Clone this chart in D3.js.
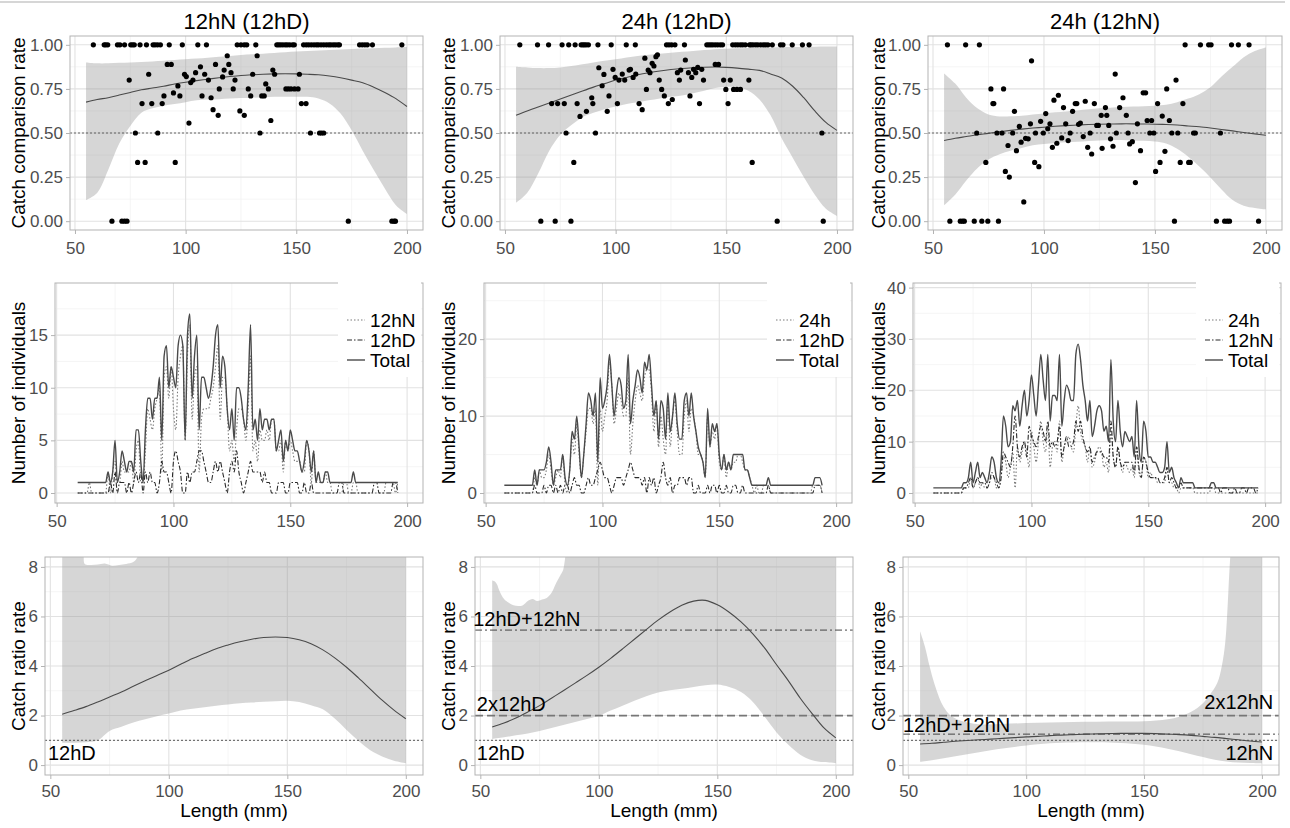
<!DOCTYPE html>
<meta charset="utf-8">
<style>
body { margin: 0; background: #fff; }
svg text { font-family: "Liberation Sans", Arial, sans-serif; }
.ptitle { font-size: 22px; fill: #000; }
.atitle { font-size: 19px; fill: #000; }
.note { font-size: 20px; fill: #000; }
.leg { font-size: 19px; fill: #000; }
</style>
<body>
<script src="https://cdn.jsdelivr.net/npm/d3@7"></script>
<script>
// ---- data ----
var fitLen = [55,60,65,70,75,80,85,90,95,100,105,110,115,120,125,130,135,140,145,150,155,160,165,170,175,180,185,190,195,200];

// top row: catch comparison rate
var ccFitA = [.675,.69,.70,.715,.73,.745,.755,.765,.778,.788,.797,.805,.813,.82,.826,.83,.833,.835,.836,.835,.833,.83,.823,.813,.80,.785,.76,.73,.695,.65];
var ccLoA = [.12,.16,.29,.44,.54,.615,.64,.655,.665,.675,.685,.69,.692,.695,.698,.70,.703,.705,.706,.706,.705,.695,.667,.61,.515,.40,.29,.185,.09,.04];
var ccHiA = [.90,.895,.895,.898,.90,.903,.906,.91,.914,.918,.922,.927,.932,.937,.942,.946,.95,.954,.958,.962,.965,.968,.971,.974,.977,.979,.981,.983,.985,.987];
var ccOnesA = [58.3,63.2,63.9,64.8,69.2,70.3,72.4,75.2,76,76.8,79.4,82.3,85.3,86.2,87.3,88.6,92.6,98.5,105.5,109.4,123.3,125,126.5,127.6,131.7,141.2,142,142.9,143.9,145,145.9,147,148.3,149.1,153.3,154.5,155.6,156.8,158,159.1,160,161.2,162.4,163.6,164.7,165.6,166.7,167.7,168.8,169.5,178.6,179.8,181,182.1,184.4,197.7];
var ccZerosA = [66.7,71.2,72.4,73.5,173.5,193.2,194.2,194.8];
var ccMidA = [[74.5,.80],[77.3,.50],[78.3,.333],[81.7,.333],[80.3,.667],[83.3,.833],[84.7,.667],[87.4,.50],[89.4,.667],[90.2,.71],[91.7,.889],[93.5,.889],[94.5,.727],[95.3,.333],[96.5,.767],[97.4,.71],[99.5,.833],[100.3,.82],[101.5,.556],[102.3,.786],[103.3,.80],[104.5,.842],[106.7,.875],[107.4,.71],[108.6,.833],[110.3,.80],[111.5,.70],[112.4,.632],[113.5,.889],[114.7,.60],[115.2,.75],[116.7,.818],[117.4,.857],[118.8,.938],[119.5,.889],[120.5,.842],[121.5,.75],[122.3,.80],[124.5,.625],[126.5,.60],[128.3,.75],[129.4,.71],[130.3,.833],[132.3,.938],[133.6,.50],[134.4,.71],[135.5,.71],[136.2,.778],[137.4,.75],[138.5,.571],[139.4,.857],[140.2,.833],[145.3,.75],[146.4,.75],[147.6,.75],[149.2,.75],[150.8,.75],[151.4,.833],[152.3,.667],[154.4,.667],[156.4,.50],[160.5,.50],[161.4,.50],[162.4,.50]];

var ccFitB = [.60,.625,.648,.67,.693,.715,.738,.76,.78,.80,.815,.83,.842,.852,.86,.866,.87,.873,.874,.872,.868,.862,.855,.835,.812,.765,.70,.625,.56,.515];
var ccLoB = [.105,.16,.27,.40,.49,.545,.59,.615,.635,.65,.665,.675,.685,.695,.705,.712,.725,.74,.755,.762,.76,.74,.69,.60,.47,.36,.25,.15,.07,.03];
var ccHiB = [.876,.872,.868,.868,.872,.88,.89,.90,.91,.918,.928,.936,.943,.95,.955,.96,.965,.97,.975,.978,.98,.982,.984,.985,.986,.987,.988,.989,.99,.99];
var ccOnesB = [56.7,64.7,69.7,75.8,78.8,81.7,84.4,85.2,85.9,86.7,87.7,92,98,104.8,108.9,123,124.1,125.3,126.8,131.1,141.2,142.1,143,143.9,145,146.1,147.3,148.3,152.9,154.1,155.2,156.4,157.4,158.6,160.5,161.2,162.1,163.2,164.2,165.5,166.7,167.7,168.8,170.8,174.5,175.6,179.8,184.4,187.4];
var ccZerosB = [66.2,72.7,79.8,173,193.8];
var ccMidB = [[71.1,.667],[73.8,.667],[76.8,.667],[77.6,.50],[81.1,.333],[82.6,.667],[83.9,.594],[86.8,.623],[89.2,.70],[89.7,.667],[90.9,.50],[92.4,.87],[93.9,.768],[94.7,.832],[96.2,.623],[97,.71],[98.8,.861],[99.8,.815],[100.8,.667],[101.5,.80],[103,.834],[104.1,.80],[106.1,.857],[106.7,.861],[107.9,.815],[109.1,.834],[110.6,.667],[112,.632],[113.2,.924],[113.9,.747],[114.7,.857],[115.5,.842],[116.5,.895],[117.3,.88],[118.2,.933],[118.9,.943],[119.7,.80],[120.8,.747],[122,.71],[123.8,.667],[125.6,.69],[127.9,.842],[128.8,.80],[129.4,.857],[131.5,.914],[132.9,.842],[133.6,.71],[134.4,.815],[135.2,.861],[136.2,.842],[137.1,.872],[137.9,.667],[138.9,.861],[139.7,.80],[145,.889],[146.5,.889],[148.8,.80],[149.8,.747],[150.8,.667],[151.8,.80],[153.3,.747],[154.8,.747],[156.4,.747],[160.2,.80],[161.7,.333],[193.2,.50]];

var ccFitC = [.457,.47,.48,.49,.498,.507,.515,.522,.528,.533,.538,.542,.545,.548,.55,.551,.552,.552,.551,.55,.548,.545,.54,.535,.528,.52,.512,.503,.495,.487];
var ccLoC = [.09,.15,.23,.30,.35,.38,.40,.415,.43,.438,.443,.447,.45,.455,.458,.46,.46,.458,.456,.452,.44,.41,.365,.31,.248,.18,.12,.088,.075,.067];
var ccHiC = [.838,.78,.70,.64,.605,.594,.595,.598,.605,.61,.617,.622,.628,.634,.64,.643,.647,.65,.652,.655,.66,.675,.695,.72,.76,.82,.875,.93,.965,.985];
var ccOnesC = [56.5,64.7,70.9,163.6,170.5,174.2,175.3,184.5,187.6,192.4];
var ccZerosC = [57.6,62.3,63.3,64.1,68.6,72,74.7,79.5,158.8,177.7,181.4,182.6,183.6,196.7];
var ccMidC = [[94.4,.909],[69.7,.50],[73.8,.333],[76.1,.75],[77,.667],[77.4,.667],[78.8,.50],[81.1,.50],[81.8,.75],[82.6,.282],[83.8,.429],[84.4,.25],[85.9,.50],[86.7,.623],[87.6,.40],[88.9,.537],[89.7,.448],[90.9,.109],[91.7,.47],[92.9,.467],[93.9,.552],[95.8,.333],[96.2,.50],[97.7,.309],[98.5,.566],[99.7,.50],[100.8,.61],[101.7,.524],[102.7,.552],[103.8,.419],[104.5,.686],[105.8,.442],[106.5,.714],[108,.472],[108.8,.644],[109.8,.552],[110.9,.457],[111.8,.50],[112.9,.623],[114.1,.667],[114.8,.667],[115.6,.549],[116.4,.556],[117.7,.48],[118.6,.68],[119.7,.419],[120.8,.50],[121.5,.381],[122.7,.667],[123.8,.543],[124.5,.543],[125.8,.60],[126.2,.413],[127.7,.644],[128.3,.60],[129.2,.543],[130,.467],[131.1,.425],[132.1,.834],[132.6,.50],[134.1,.644],[135.6,.70],[137.1,.60],[137.9,.50],[138.6,.438],[139.8,.451],[141.2,.219],[142.1,.552],[143.5,.40],[144.7,.728],[145.8,.728],[146.5,.571],[147.7,.50],[148.5,.571],[149.5,.50],[150.3,.282],[151.2,.667],[152.3,.333],[153.3,.596],[154.5,.396],[155.3,.75],[156.5,.571],[157.6,.50],[159.5,.80],[160.3,.50],[161.4,.333],[162.6,.667],[165.2,.333],[165.9,.333],[167.4,.50],[168.2,.50],[179.5,.50]];

// middle row: number of individuals per mm
var countStart1 = 59;
var total1 = [1,1,1,1,1,1,1,1,1,1, 1,1,1,2,1,2,5,1,2,4, 3,2,3,3,2,6,6,3,1,6, 9,9,7,9,9,11,5,13,14,10, 12,11,10,14,15,14,5,15,17,9, 13,15,6,11,11,10,9,10,12,15, 16,10,13,12,8,6,8,5,10,10, 9,7,6,10,16,6,7,5,8,6, 7,7,6,7,7,4,5,6,3,5, 4,6,5,4,4,3,2,3,5,4, 2,4,1,2,1,1,2,2,1,1, 1,1,1,1,1,1,1,1,2,1, 1,1,1,1,1,1,1,1,1,1, 1,1,1,1,1,1,1,1];
var n12hN1 = [0,0,0,0,0,1,0,0,0,0, 0,0,0,2,0,2,3,1,1,3, 2,2,2,3,1,4,5,1,1,4, 8,7,6,8,9,10,2,11,12,9, 12,8,6,11,13,14,5,13,16,7, 11,12,2,7,8,8,8,9,10,12, 14,7,11,11,8,4,5,3,6,8, 8,7,5,8,13,4,5,3,6,5, 5,6,5,7,7,4,4,5,2,5, 4,5,4,3,3,3,2,2,5,4, 1,4,1,1,1,1,2,1,1,0, 0,0,0,0,1,1,0,0,1,1, 0,0,0,0,0,0,0,0,0,0, 0,0,1,1,1,1,0,1];
var n12hD1 = [0,0,0,0,0,0,0,0,0,0, 0,0,0,0,1,0,2,0,1,1, 1,0,1,0,1,2,1,2,0,2, 1,2,1,1,0,1,3,2,2,1, 0,3,4,3,2,0,0,2,1,2, 2,3,4,4,3,2,1,1,2,3, 2,3,2,1,0,2,3,2,4,2, 1,0,1,2,3,2,2,2,2,1, 2,1,1,0,0,0,1,1,1,0, 0,1,1,1,1,0,0,1,0,0, 1,0,0,0,0,0,0,0,0,0, 0,0,1,1,0,0,0,0,0,0, 0,0,0,0,0,0,0,1,1,0, 0,0,0,0,0,1,1,0];

var countStart2 = 58;
var total2 = [1,1,1,1,1,1,1,1,1,1, 1,1,1,3,1,3,3,3,4,6, 4,1,3,3,3,5,2,1,3,8, 7,10,6,2,5,9,13,12,10,13, 4,15,11,12,14,18,14,10,13,15, 14,11,12,18,9,12,14,16,15,13, 17,16,18,14,10,12,7,12,11,7, 13,8,10,13,9,7,7,12,13,10, 13,10,8,6,5,4,2,11,6,9, 8,9,5,3,5,3,4,3,5,5, 5,5,5,3,3,2,1,1,1,1, 1,1,1,2,1,1,1,1,1,1, 1,1,1,1,1,1,1,1,1,1, 1,1,1,2,2,2,1];
var n24h2 = [0,0,0,0,0,0,0,0,0,0, 0,0,0,2,1,3,2,2,3,5, 3,1,2,3,2,5,1,0,3,7, 5,9,5,2,5,8,11,11,9,11, 1,11,8,10,12,17,14,9,11,13, 12,10,10,15,5,9,12,14,13,12, 15,16,16,13,8,12,6,10,7,5, 12,6,10,12,8,5,5,10,12,8, 11,10,8,5,5,4,2,10,6,8, 7,9,4,3,5,2,4,3,4,4, 5,5,4,3,3,2,1,0,1,0, 0,1,1,1,0,0,0,0,0,0, 0,0,0,0,0,0,0,0,0,0, 0,0,1,1,1,1,0];
var n12hD2 = [0,0,0,0,0,0,0,0,0,0, 0,0,0,1,0,0,0,1,0,1, 1,0,1,0,1,0,1,1,0,1, 2,1,1,0,0,1,2,1,1,2, 3,4,3,2,2,1,0,1,2,2, 2,1,2,3,4,3,2,2,2,1, 2,0,2,1,2,0,1,2,4,2, 1,2,0,1,1,2,2,2,1,2, 2,0,0,1,0,0,0,1,0,1, 1,0,1,0,0,1,0,0,1,1, 0,0,1,0,0,0,0,0,0,0, 0,0,0,1,0,0,0,0,0,0, 0,0,0,0,0,0,0,0,0,0, 0,0,0,1,1,1,0];

var countStart3 = 58;
var total3 = [1,1,1,1,1,1,1,1,1,1, 1,1,1,2,2,3,6,2,4,6, 3,4,3,2,4,7,6,3,2,6, 15,13,9,10,17,16,18,13,17,20, 15,18,23,19,15,21,27,22,18,27, 14,19,19,18,27,13,18,21,20,18, 18,27,29,26,21,18,14,18,11,13, 16,17,16,12,13,10,26,14,10,18, 12,9,12,11,10,11,7,18,9,6, 14,12,7,7,6,6,5,4,4,5, 10,4,5,3,2,1,3,2,2,2, 2,2,1,1,1,1,1,1,1,2, 2,1,1,1,1,1,1,1,1,1, 1,1,1,1,1,1,1,1,1,1];
var n24h3 = [0,0,0,0,0,0,0,0,0,0, 0,0,0,1,1,1,3,1,2,3, 1,2,1,1,2,3,3,1,1,3, 7,6,3,5,8,1,9,6,8,10, 8,5,12,9,6,10,14,10,8,13, 5,9,10,8,14,6,9,10,11,9, 8,13,17,12,10,9,6,9,5,6, 8,9,8,5,6,4,12,7,5,9, 6,4,6,5,4,5,3,9,4,3, 7,6,3,4,3,3,2,2,2,2, 5,2,2,1,1,0,1,1,1,1, 1,1,0,0,0,0,0,0,0,1, 1,0,0,0,0,0,0,0,0,0, 0,0,0,0,0,0,0,0,0,0];
var n12hN3 = [0,0,0,0,0,0,0,0,0,0, 0,0,0,1,1,2,3,1,2,3, 2,2,2,1,2,4,3,2,1,3, 8,7,6,5,9,15,9,7,9,10, 7,13,11,10,9,11,13,12,10,14, 9,10,9,10,13,7,9,11,9,9, 10,14,12,14,11,9,8,9,6,7, 8,8,8,7,7,6,14,7,5,9, 6,5,6,6,6,6,4,9,5,3, 7,6,4,3,3,3,3,2,2,3, 5,2,3,2,1,1,2,1,1,1, 1,1,1,1,1,1,1,1,1,1, 1,1,1,0,1,1,1,0,0,1, 0,0,1,1,0,1,1,1,0,1];

// bottom row: catch ratio rate
var crFitD = [2.05,2.2,2.36,2.55,2.75,2.95,3.18,3.4,3.62,3.83,4.07,4.3,4.5,4.7,4.85,4.98,5.08,5.15,5.17,5.15,5.06,4.9,4.65,4.33,3.95,3.52,3.07,2.62,2.22,1.87];
var crLoD = [0.9,0.9,0.92,1.0,1.38,1.55,1.72,1.85,1.97,2.08,2.2,2.27,2.33,2.4,2.45,2.5,2.53,2.56,2.58,2.6,2.55,2.42,2.25,1.88,1.42,0.98,0.6,0.35,0.18,0.08];
var crHiD = [[55,10.5],[60,9.6],[63,8.9],[64,8.5],[64.5,8.12],[67,8.08],[70,8.1],[73,8.14],[76,8.05],[79,8.08],[82,8.12],[85,8.2],[86.5,8.35],[88,8.8],[92,9.6],[100,10.5],[150,11.5],[200,12]];
var refD = [1];

var crFitE = [1.54,1.7,1.9,2.14,2.4,2.7,3.0,3.31,3.62,3.95,4.31,4.69,5.08,5.47,5.85,6.18,6.45,6.62,6.65,6.47,6.17,5.78,5.3,4.72,4.05,3.4,2.7,2.08,1.5,1.1];
var crLoE = [1.05,1.12,1.2,1.28,1.38,1.5,1.62,1.74,1.86,1.99,2.2,2.4,2.6,2.78,2.93,3.02,3.08,3.15,3.22,3.25,3.15,2.95,2.55,1.95,1.32,0.82,0.42,0.2,0.12,0.08];
var crHiE = [[55,7.45],[56,7.42],[57,7.3],[58,7.05],[60,6.7],[62,6.55],[64,6.45],[66,6.42],[68,6.45],[70,6.62],[72,6.7],[74,6.62],[76,6.68],[78,6.75],[80,6.95],[82,7.35],[84,7.7],[85,7.9],[86,8.5],[88,9.5],[100,11],[200,12]];
var refE = [1, 2, 5.45];

var crFitF = [0.85,0.88,0.92,0.96,0.99,1.02,1.05,1.08,1.11,1.14,1.16,1.19,1.21,1.23,1.25,1.26,1.27,1.28,1.28,1.28,1.27,1.25,1.23,1.2,1.16,1.12,1.07,1.02,0.97,0.93];
var crLoF = [0.13,0.2,0.28,0.36,0.44,0.52,0.6,0.67,0.73,0.79,0.84,0.88,0.9,0.91,0.92,0.92,0.91,0.89,0.86,0.82,0.75,0.66,0.56,0.44,0.33,0.22,0.15,0.1,0.08,0.07];
var crHiF = [[55,5.4],[57,4.8],[59,4.0],[61,3.3],[63,2.75],[65,2.35],[68,2.0],[72,1.8],[80,1.65],[90,1.66],[100,1.7],[110,1.72],[120,1.74],[130,1.75],[140,1.76],[150,1.77],[160,1.85],[165,1.95],[170,2.15],[175,2.5],[178,2.85],[181,3.3],[183,4.0],[184.5,5.0],[185.5,6.5],[186.5,8.3],[188,10],[200,12]];
var refF = [1, 2, 1.25];

var xTicks = [50, 100, 150, 200], xMinor = [75, 125, 175];

// ---- drawing ----
var svg = d3.select("body").append("svg").attr("width", 1290).attr("height", 828);

svg.append("line").attr("x1", 0).attr("x2", 1285).attr("y1", 2).attr("y2", 2)
  .attr("stroke", "#c8c8c8").attr("stroke-width", 1.5);

function styleAxis(a) {
  a.select(".domain").remove();
  a.selectAll(".tick line").attr("stroke", "#b3b3b3");
  a.selectAll(".tick text").attr("fill", "#4d4d4d").style("font-size", "17px")
    .style("font-family", '"Liberation Sans", Arial, sans-serif');
}

// box = [left, right, top, bottom]
function panel(id, box, xDom, yDom, yTicks, yMinor, yFmt, xGap) {
  var x = d3.scaleLinear().domain(xDom).range([box[0], box[1]]);
  var y = d3.scaleLinear().domain(yDom).range([box[3], box[2]]);
  var g = svg.append("g");
  svg.append("clipPath").attr("id", "clip" + id).append("rect")
    .attr("x", box[0]).attr("y", box[2]).attr("width", box[1] - box[0]).attr("height", box[3] - box[2]);
  var grid = g.append("g");
  function vlines(vals, col, w) {
    grid.selectAll(null).data(vals).enter().append("line")
      .attr("x1", x).attr("x2", x).attr("y1", box[2]).attr("y2", box[3])
      .attr("stroke", col).attr("stroke-width", w);
  }
  function hlines(vals, col, w) {
    grid.selectAll(null).data(vals).enter().append("line")
      .attr("y1", y).attr("y2", y).attr("x1", box[0]).attr("x2", box[1])
      .attr("stroke", col).attr("stroke-width", w);
  }
  vlines(xMinor, "#f0f0f0", 0.7);
  hlines(yMinor, "#f0f0f0", 0.7);
  vlines(xTicks, "#e2e2e2", 1.1);
  hlines(yTicks, "#e2e2e2", 1.1);
  var body = g.append("g").attr("clip-path", "url(#clip" + id + ")");
  g.append("rect").attr("x", box[0]).attr("y", box[2])
    .attr("width", box[1] - box[0]).attr("height", box[3] - box[2])
    .attr("fill", "none").attr("stroke", "#b3b3b3").attr("stroke-width", 1);
  var ax = g.append("g").attr("transform", "translate(0," + box[3] + ")")
    .call(d3.axisBottom(x).tickValues(xTicks).tickSize(4).tickPadding(xGap));
  styleAxis(ax);
  var ay = g.append("g").attr("transform", "translate(" + box[0] + ",0)")
    .call(d3.axisLeft(y).tickValues(yTicks).tickFormat(yFmt).tickSize(4).tickPadding(3));
  styleAxis(ay);
  return { x: x, y: y, g: g, body: body, box: box };
}

function yTitle(p, cx, label) {
  var cy = (p.box[2] + p.box[3]) / 2;
  svg.append("text").attr("class", "atitle")
    .attr("transform", "translate(" + cx + "," + cy + ") rotate(-90)")
    .attr("text-anchor", "middle").attr("dominant-baseline", "central").text(label);
}

function band(p, upper, lower) {
  var ln = d3.line().x(function(d) { return p.x(d[0]); }).y(function(d) { return p.y(d[1]); })
    .curve(d3.curveCatmullRom);
  var path = ln(upper) + "L" + ln(lower.slice().reverse()).slice(1) + "Z";
  p.body.append("path").attr("d", path).attr("fill", "#999999").attr("fill-opacity", 0.4);
}

function curve(p, pts) {
  var ln = d3.line().x(function(d) { return p.x(d[0]); }).y(function(d) { return p.y(d[1]); })
    .curve(d3.curveCatmullRom);
  p.body.append("path").attr("d", ln(pts)).attr("fill", "none")
    .attr("stroke", "#4a4a4a").attr("stroke-width", 1.1);
}

function zip(xs, ys) { return xs.map(function(v, i) { return [v, ys[i]]; }); }

// top row
var topBoxes = [[70, 423, 36, 230], [500, 853, 36, 230], [928, 1282, 36, 230]];
var colTitleX = [18, 448, 878];
var topTitles = ["12hN (12hD)", "24h (12hD)", "24h (12hN)"];
var topSets = [
  [ccFitA, ccLoA, ccHiA, ccOnesA, ccZerosA, ccMidA],
  [ccFitB, ccLoB, ccHiB, ccOnesB, ccZerosB, ccMidB],
  [ccFitC, ccLoC, ccHiC, ccOnesC, ccZerosC, ccMidC]
];
topSets.forEach(function(s, i) {
  var p = panel("t" + i, topBoxes[i], [47.75, 207.25], [-0.05, 1.05],
    [0, 0.25, 0.5, 0.75, 1], [0.125, 0.375, 0.625, 0.875], d3.format(".2f"), 8);
  band(p, zip(fitLen, s[2]), zip(fitLen, s[1]));
  p.body.append("line").attr("x1", p.box[0]).attr("x2", p.box[1])
    .attr("y1", p.y(0.5)).attr("y2", p.y(0.5))
    .attr("stroke", "#555").attr("stroke-width", 0.9).attr("stroke-dasharray", "2,2");
  curve(p, zip(fitLen, s[0]));
  var pts = s[3].map(function(v) { return [v, 1]; })
    .concat(s[4].map(function(v) { return [v, 0]; }))
    .concat(s[5]);
  p.body.selectAll(null).data(pts).enter().append("circle")
    .attr("cx", function(d) { return p.x(d[0]); })
    .attr("cy", function(d) { return p.y(d[1]); })
    .attr("r", 2.6).attr("fill", "#000");
  svg.append("text").attr("class", "ptitle").attr("text-anchor", "middle")
    .attr("x", (p.box[0] + p.box[1]) / 2).attr("y", 29).text(topTitles[i]);
  yTitle(p, colTitleX[i], "Catch comparison rate");
});

// middle row
var midBoxes = [[55, 423, 283, 503], [484, 852, 283, 503], [913, 1281, 283, 503]];
var midSets = [
  { start: countStart1, total: total1, dot: n12hN1, dash: n12hD1, names: ["12hN", "12hD", "Total"],
    yDom: [-0.95, 19.95], ticks: [0, 5, 10, 15], minor: [2.5, 7.5, 12.5, 17.5] },
  { start: countStart2, total: total2, dot: n24h2, dash: n12hD2, names: ["24h", "12hD", "Total"],
    yDom: [-1.3, 27.3], ticks: [0, 10, 20], minor: [5, 15, 25] },
  { start: countStart3, total: total3, dot: n24h3, dash: n12hN3, names: ["24h", "12hN", "Total"],
    yDom: [-1.95, 40.9], ticks: [0, 10, 20, 30, 40], minor: [5, 15, 25, 35] }
];
var lineStyles = [
  { col: "#7a7a7a", w: 1.1, dash: "1.5,2" },
  { col: "#2a2a2a", w: 1.1, dash: "5,2,1.5,2" },
  { col: "#4a4a4a", w: 1.4, dash: null }
];
midSets.forEach(function(s, i) {
  var p = panel("m" + i, midBoxes[i], [49.3, 206.8], s.yDom, s.ticks, s.minor, d3.format("d"), 8);
  var ln = d3.line().x(function(d) { return p.x(d[0]); }).y(function(d) { return p.y(d[1]); })
    .curve(d3.curveMonotoneX);
  var series = [s.dot, s.dash, s.total];
  series.forEach(function(arr, k) {
    var pts = arr.map(function(v, j) { return [s.start + j, v]; });
    var path = p.body.append("path").attr("d", ln(pts)).attr("fill", "none")
      .attr("stroke", lineStyles[k].col).attr("stroke-width", lineStyles[k].w)
      .attr("stroke-linejoin", "round");
    if (lineStyles[k].dash) path.attr("stroke-dasharray", lineStyles[k].dash);
  });
  // legend
  var L = p.box[1] - 85, T = p.box[2];
  var lg = p.g.append("g");
  lg.append("rect").attr("x", L).attr("y", T - 4).attr("width", 83).attr("height", 98).attr("fill", "#fff");
  s.names.forEach(function(nm, k) {
    var cy = T + 37 + k * 20;
    var seg = lg.append("line").attr("x1", L + 9).attr("x2", L + 27).attr("y1", cy).attr("y2", cy)
      .attr("stroke", lineStyles[k].col).attr("stroke-width", lineStyles[k].w);
    if (lineStyles[k].dash) seg.attr("stroke-dasharray", lineStyles[k].dash);
    lg.append("text").attr("class", "leg").attr("x", L + 32).attr("y", cy)
      .attr("dominant-baseline", "central").text(nm);
  });
  yTitle(p, colTitleX[i], "Number of individuals");
});

// bottom row
var botBoxes = [[45, 423, 557, 775], [475, 853, 557, 775], [903, 1279, 557, 775]];
var refStyles = [
  { col: "#555", w: 1, dash: "2,2" },
  { col: "#777", w: 1.8, dash: "8,4" },
  { col: "#444", w: 1, dash: "7,3,2,3" }
];
var botSets = [
  [crFitD, crLoD, crHiD, refD],
  [crFitE, crLoE, crHiE, refE],
  [crFitF, crLoF, crHiF, refF]
];
var botPanels = botSets.map(function(s, i) {
  var p = panel("b" + i, botBoxes[i], [47.75, 207.25], [-0.4, 8.4],
    [0, 2, 4, 6, 8], [1, 3, 5, 7], d3.format("d"), 6);
  band(p, s[2], zip(fitLen, s[1]));
  s[3].forEach(function(v, k) {
    p.body.append("line").attr("x1", p.box[0]).attr("x2", p.box[1])
      .attr("y1", p.y(v)).attr("y2", p.y(v))
      .attr("stroke", refStyles[k].col).attr("stroke-width", refStyles[k].w)
      .attr("stroke-dasharray", refStyles[k].dash);
  });
  curve(p, zip(fitLen, s[0]));
  yTitle(p, colTitleX[i], "Catch ratio rate");
  svg.append("text").attr("class", "atitle").attr("text-anchor", "middle")
    .attr("x", (p.box[0] + p.box[1]) / 2).attr("y", 817).text("Length (mm)");
  return p;
});

function note(p, xv, yv, anchor, txt) {
  p.g.append("text").attr("class", "note").attr("x", p.x(xv)).attr("y", p.y(yv))
    .attr("text-anchor", anchor).text(txt);
}
note(botPanels[0], 49, 0.2, "start", "12hD");
note(botPanels[1], 47, 5.62, "start", "12hD+12hN");
note(botPanels[1], 48.5, 2.18, "start", "2x12hD");
note(botPanels[1], 48.5, 0.2, "start", "12hD");
note(botPanels[2], 204.8, 2.25, "end", "2x12hN");
note(botPanels[2], 47.75, 1.33, "start", "12hD+12hN");
note(botPanels[2], 204.8, 0.2, "end", "12hN");
</script>
</body>
